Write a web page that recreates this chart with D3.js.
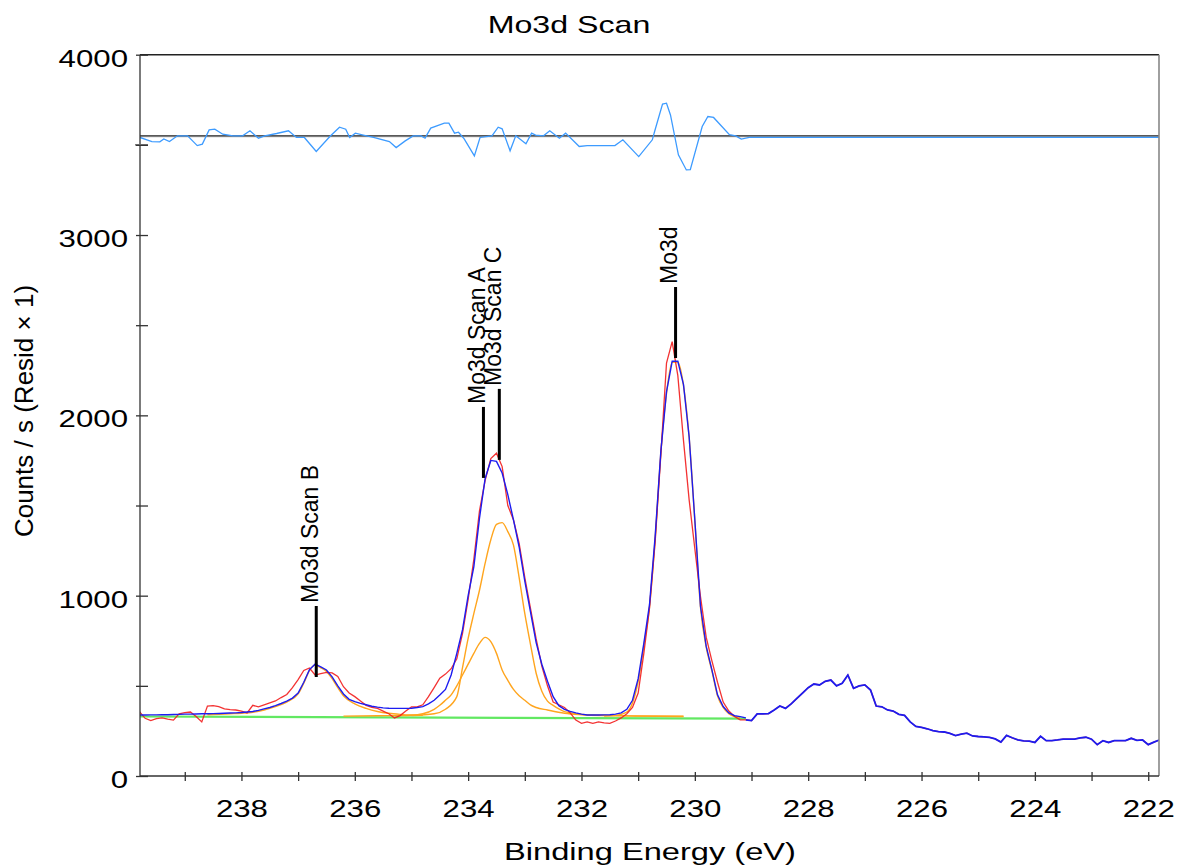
<!DOCTYPE html>
<html><head><meta charset="utf-8">
<script src="https://cdn.jsdelivr.net/npm/d3@7"></script>
<style>body{margin:0;background:#fff;} svg{display:block;}</style>
</head><body><svg id="c" width="1177" height="865"></svg>
<script>
// ---------------- data ----------------
const title = "Mo3d Scan";
const xTitle = "Binding Energy (eV)";
const yTitle = "Counts / s (Resid \u00d7 1)";

const energy = [
239.8,239.7,239.6,239.5,239.4,239.3,239.2,239.1,239.0,238.9,
238.8,238.7,238.6,238.5,238.4,238.3,238.2,238.1,238.0,237.9,
237.8,237.7,237.6,237.5,237.4,237.3,237.2,237.1,237.0,236.9,
236.8,236.7,236.6,236.5,236.4,236.3,236.2,236.1,236.0,235.9,
235.8,235.7,235.6,235.5,235.4,235.3,235.2,235.1,235.0,234.9,
234.8,234.7,234.6,234.5,234.4,234.3,234.2,234.1,234.0,233.9,
233.8,233.7,233.6,233.5,233.4,233.3,233.2,233.1,233.0,232.9,
232.8,232.7,232.6,232.5,232.4,232.3,232.2,232.1,232.0,231.9,
231.8,231.7,231.6,231.5,231.4,231.3,231.2,231.1,231.0,230.9,
230.8,230.7,230.6,230.5,230.4,230.3,230.2,230.1,230.0,229.9,
229.8,229.7,229.6,229.5,229.4,229.3,229.2,229.1,229.0,228.9,
228.8,228.7,228.6,228.5,228.4,228.3,228.2,228.1,228.0,227.9,
227.8,227.7,227.6,227.5,227.4,227.3,227.2,227.1,227.0,226.9,
226.8,226.7,226.6,226.5,226.4,226.3,226.2,226.1,226.0,225.9,
225.8,225.7,225.6,225.5,225.4,225.3,225.2,225.1,225.0,224.9,
224.8,224.7,224.6,224.5,224.4,224.3,224.2,224.1,224.0,223.9,
223.8,223.7,223.6,223.5,223.4,223.3,223.2,223.1,223.0,222.9,
222.8,222.7,222.6,222.5,222.4,222.3,222.2,222.1,222.0,221.9,
221.8];

const counts = [
357,320,307,318,322,315,310,345,352,355,
330,300,388,390,385,372,368,366,360,350,
392,383,394,405,416,435,452,490,535,585,
599,560,568,575,572,552,495,460,440,416,
392,380,375,360,345,322,335,360,383,383,
395,440,490,542,565,595,650,790,980,1200,
1470,1640,1760,1790,1716,1500,1420,1290,1100,930,
760,610,500,410,395,380,350,310,292,300,
292,300,295,292,305,322,345,380,460,680,
930,1300,1780,2290,2409,2220,1860,1530,1260,994,
770,640,520,410,360,330,311,311,307,344,
344,346,366,388,375,400,430,460,490,510,
505,525,532,500,514,560,486,500,505,477,
388,384,366,360,342,336,300,275,270,262,
252,246,244,236,224,232,238,222,219,217,
214,206,188,225,212,200,195,193,186,220,
196,196,200,205,205,205,212,215,204,174,
196,186,196,196,196,209,198,200,174,188,
200];

// fit envelope over the fitted region (239.8 .. 229.1)
const envelope = [
338,338,339,339,340,340,341,342,343,343,
344,345,345,346,347,348,349,350,352,355,
358,364,372,380,390,402,415,432,460,520,
590,620,605,588,550,500,455,425,412,403,
395,387,382,378,376,375,375,375,376,380,
385,400,420,449,480,560,680,810,1000,1160,
1430,1650,1750,1745,1680,1560,1420,1270,1080,910,
740,620,525,440,390,370,358,350,343,338,
338,338,339,340,343,350,370,420,540,736,
950,1330,1800,2130,2300,2300,2170,1880,1420,940,
720,590,450,385,350,335,329,322];

// background (linear)
const bgE = [239.8, 229.1];
const bgC = [330, 318];

// components (counts include background)
const compBE = [238.6,238.4,238.2,238.0,237.8,237.6,237.4,237.2,237.0,236.9,236.8,236.7,236.6,236.5,236.4,236.3,236.2,236.0,235.8,235.6,235.4,235.2,235.0,234.8];
const compBC = [340,342,345,348,353,366,385,410,455,515,585,615,600,580,540,490,445,400,375,358,348,342,338,336];
const compAE = [236.2,235.6,235.0,234.8,234.6,234.5,234.4,234.3,234.2,234.1,234.0,233.9,233.8,233.7,233.6,233.5,233.4,233.3,233.2,233.1,233.0,232.9,232.8,232.6,232.3,232.0,231.5,231.0,230.2];
const compAC = [332,334,337,345,370,392,420,450,500,560,620,680,735,769,745,680,588,530,480,445,420,394,380,366,348,340,335,332,330];
const compCE = [235.0,234.6,234.4,234.2,234.1,234.0,233.9,233.8,233.7,233.6,233.5,233.4,233.3,233.2,233.1,233.0,232.9,232.8,232.7,232.6,232.5,232.4,232.3,232.0,231.5,231.0,230.2];
const compCC = [335,345,370,440,600,763,900,1030,1180,1310,1395,1405,1355,1280,1100,900,730,570,470,415,392,372,357,342,336,333,331];
const compDE = [231.6,231.4,231.2,231.1,231.0,230.9,230.8,230.7,230.6,230.5,230.4,230.3,230.2,230.1,230.0,229.9,229.8,229.7,229.6,229.5,229.4,229.3,229.2];
const compDC = [332,336,355,405,525,722,938,1318,1790,2122,2294,2295,2165,1875,1415,935,715,585,445,380,345,330,326];

// residual (x1), plotted around an offset
const residOffset = 3550;
const residE = [239.79,239.58,239.44,239.37,239.27,239.13,238.95,238.78,238.69,238.57,238.47,238.33,238.15,237.98,237.85,237.70,237.59,237.38,237.17,237.03,236.89,236.68,236.44,236.27,236.16,236.09,235.99,235.85,235.67,235.39,235.27,235.11,234.97,234.83,234.76,234.66,234.42,234.34,234.24,234.17,234.07,233.89,233.79,233.68,233.58,233.47,233.40,233.26,233.16,232.98,232.88,232.81,232.67,232.56,232.39,232.28,232.04,231.90,231.41,231.27,230.99,230.75,230.71,230.57,230.50,230.43,230.29,230.15,230.08,229.87,229.77,229.67,229.39,229.28,229.18,229.04,228.84,221.81];
const residV = [-9,-32,-33,-17,-32,0,0,-54,-46,33,37,9,0,0,28,-13,0,13,28,-9,-9,-87,-4,48,37,-9,15,4,-9,-32,-65,-28,0,0,-13,43,70,70,15,20,-17,-111,-9,-4,0,48,39,-83,0,-44,15,4,0,28,-13,15,-59,-54,-54,-22,-115,-22,24,176,181,116,-105,-189,-187,52,107,102,6,0,-18,-9,-9,-9];

// peak labels
const peakNames = ["Mo3d Scan B","Mo3d Scan A","Mo3d Scan C","Mo3d"];
const peakE = [236.68, 233.73, 233.45, 230.34];
const peakV = [549, 1653, 1753, 2318];

// axes
const xDomain = [239.79, 221.81];
const yDomain = [0, 4000];
const xTicks = [239,238,237,236,235,234,233,232,231,230,229,228,227,226,225,224,223,222];
const xLabels = [238,236,234,232,230,228,226,224,222];
const yTicks = [0,500,1000,1500,2000,2500,3000,3500,4000];
const yLabels = [0,1000,2000,3000,4000];

// ---------------- drawing ----------------
const FONT = "'Liberation Sans', Arial, sans-serif";
const SX = 1.3;
const L = 140, R = 1159, T = 54.7, B = 776;
const svg = d3.select("#c");
const x = d3.scaleLinear().domain(xDomain).range([L, R]);
const y = d3.scaleLinear().domain(yDomain).range([B, T]);

function pts(es, cs) { return es.map((e, i) => [e, cs[i]]); }
const line = d3.line().x(d => x(d[0])).y(d => y(d[1]));
const smooth = d3.line().x(d => x(d[0])).y(d => y(d[1])).curve(d3.curveMonotoneX);

const plot = svg.append("g");
plot.append("clipPath").attr("id","clip").append("rect").attr("x",L).attr("y",T).attr("width",R-L).attr("height",B-T);
const pg = plot.append("g").attr("clip-path","url(#clip)");

// background
pg.append("path").datum(pts(bgE, bgC)).attr("d", line)
  .attr("fill","none").attr("stroke","#62e862").attr("stroke-width",2.2);

// components
[[compBE,compBC],[compAE,compAC],[compCE,compCC],[compDE,compDC]].forEach(([e,c]) => {
  pg.append("path").datum(pts(e,c)).attr("d", smooth)
    .attr("fill","none").attr("stroke","#ffa51e").attr("stroke-width",1.4);
});

// raw data
pg.append("path").datum(pts(energy, counts)).attr("d", line)
  .attr("fill","none").attr("stroke","#f21c1c").attr("stroke-width",1.3).attr("stroke-opacity",0.9);

// envelope in fitted region + data beyond
pg.append("path").datum(pts(energy.slice(0, envelope.length), envelope)).attr("d", line)
  .attr("fill","none").attr("stroke","#1c1cf0").attr("stroke-width",1.4);
pg.append("path").datum(pts(energy.slice(envelope.length - 1), counts.slice(envelope.length - 1))).attr("d", line)
  .attr("fill","none").attr("stroke","#1c1cf0").attr("stroke-width",1.8);

// residual zero line + residual
pg.append("line").attr("x1",L).attr("x2",R).attr("y1",y(residOffset)+1).attr("y2",y(residOffset)+1)
  .attr("stroke","#c8c8c8").attr("stroke-width",1);
pg.append("line").attr("x1",L).attr("x2",R).attr("y1",y(residOffset)).attr("y2",y(residOffset))
  .attr("stroke","#222").attr("stroke-width",1.3);
pg.append("path").datum(pts(residE, residV.map(v => v + residOffset))).attr("d", line)
  .attr("fill","none").attr("stroke","#3d9bff").attr("stroke-width",1.3);

// frame
svg.append("line").attr("x1",L).attr("x2",R).attr("y1",T).attr("y2",T).attr("stroke","#222").attr("stroke-width",1.4);
svg.append("line").attr("x1",R).attr("x2",R).attr("y1",T).attr("y2",B).attr("stroke","#888").attr("stroke-width",1.6);
svg.append("line").attr("x1",L).attr("x2",L).attr("y1",T).attr("y2",B).attr("stroke","#333").attr("stroke-width",1.3);
svg.append("line").attr("x1",L).attr("x2",R).attr("y1",B).attr("y2",B).attr("stroke","#333").attr("stroke-width",1.3);
// residual axis marker
svg.append("line").attr("x1",135).attr("x2",148).attr("y1",y(3500)).attr("y2",y(3500)).attr("stroke","#777").attr("stroke-width",1.6);

// x axis
const gx = svg.append("g").attr("transform",`translate(0,${B-4})`)
  .call(d3.axisBottom(x).tickValues(xTicks).tickSize(9).tickFormat(d => xLabels.includes(d) ? String(d) : ""));
gx.select(".domain").remove();
gx.selectAll(".tick line").attr("stroke","#333").attr("stroke-width",1.3);
gx.selectAll(".tick text").attr("y",null).attr("dy",null)
  .attr("transform",`translate(0,45) scale(${SX},1)`)
  .attr("font-size",24).attr("font-family",FONT).attr("fill","#000");

// y axis
const gy = svg.append("g").attr("transform",`translate(${L+8},0)`)
  .call(d3.axisLeft(y).tickValues(yTicks).tickSize(12).tickFormat(d => yLabels.includes(d) ? String(d) : ""));
gy.select(".domain").remove();
gy.selectAll(".tick line").attr("stroke","#333").attr("stroke-width",1.3);
gy.selectAll(".tick text").attr("x",null).attr("dy",null)
  .attr("transform",`translate(-20,11.5) scale(${SX},1)`)
  .attr("font-size",24).attr("font-family",FONT).attr("fill","#000");

// titles
svg.append("text").attr("transform",`translate(569,33) scale(1.34,1)`)
  .attr("text-anchor","middle").attr("font-size",24).attr("font-family",FONT).text(title);
svg.append("text").attr("transform",`translate(650,860) scale(1.36,1)`)
  .attr("text-anchor","middle").attr("font-size",24).attr("font-family",FONT).text(xTitle);
svg.append("text").attr("transform",`translate(33,411) rotate(-90)`)
  .attr("text-anchor","middle").attr("font-size",26).attr("font-family",FONT).text(yTitle);

// peak labels
peakNames.forEach((name, i) => {
  const px = x(peakE[i]), py = y(peakV[i]);
  svg.append("line").attr("x1",px).attr("x2",px).attr("y1",py).attr("y2",py-71)
    .attr("stroke","#000").attr("stroke-width",3);
  svg.append("text").attr("transform",`translate(${px+1.5},${py-74}) rotate(-90)`)
    .attr("text-anchor","start").attr("font-size",23).attr("font-family",FONT).text(name);
});
</script></body></html>
